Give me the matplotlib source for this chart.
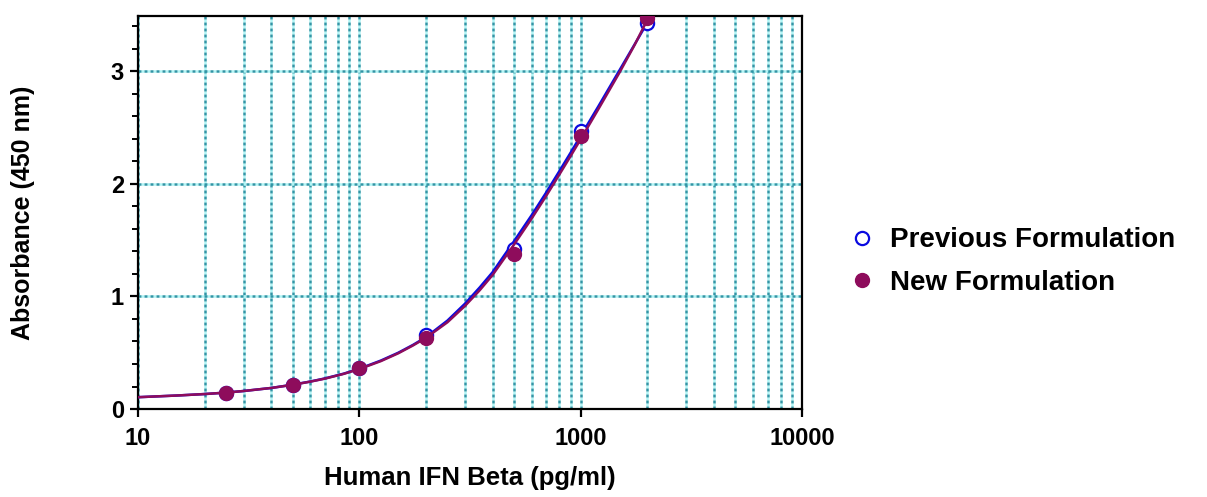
import matplotlib.pyplot as plt
import numpy as np

plt.rcParams['font.family'] = ['Liberation Sans', 'DejaVu Sans']
plt.rcParams['font.weight'] = 'bold'

# standards (pg/ml) and measured absorbance
conc = [25, 50, 100, 200, 500, 1000, 2000]
prev_od = [0.14, 0.215, 0.365, 0.66, 1.42, 2.47, 3.425]
new_od = [0.14, 0.215, 0.36, 0.63, 1.375, 2.42, 3.475]

# fitted curves
curve_x = [10, 15, 20, 25, 30, 40, 50, 60, 70, 85, 100, 125, 150, 175, 200, 250, 300, 350,
           400, 500, 600, 700, 800, 900, 1000, 1200, 1500, 1750, 2000]
curve_prev = [0.105, 0.12, 0.133, 0.146, 0.16, 0.187, 0.216, 0.244, 0.272, 0.314, 0.358, 0.43,
              0.5, 0.57, 0.638, 0.785, 0.935, 1.08, 1.215, 1.49, 1.72, 1.925, 2.11, 2.275,
              2.425, 2.685, 3.01, 3.235, 3.43]
curve_new = [0.105, 0.12, 0.133, 0.146, 0.16, 0.187, 0.215, 0.243, 0.27, 0.312, 0.355, 0.425,
             0.495, 0.565, 0.632, 0.77, 0.915, 1.055, 1.19, 1.46, 1.69, 1.895, 2.08, 2.245,
             2.395, 2.66, 2.99, 3.23, 3.455]

xticks = [10, 100, 1000, 10000]
xlabels = ['10', '100', '1000', '10000']
yticks = [0, 1, 2, 3]

blue = '#0a0ae0'
plum = '#8e0c5c'

fig = plt.figure(figsize=(12.07, 4.97), dpi=100)
ax = fig.add_axes([0.1143, 0.177, 0.5502, 0.791])

ax.plot(curve_x, curve_prev, color=blue, lw=1.8, zorder=3)
p1, = ax.plot(conc, prev_od, ls='none', marker='o', ms=9.5, mfc='white', mec=blue, mew=1.6,
              zorder=4, label='Previous Formulation')
ax.plot(curve_x, curve_new, color=plum, lw=1.8, zorder=5)
p2, = ax.plot(conc, new_od, ls='none', marker='o', ms=10, mfc=plum, mec=plum, mew=1,
              zorder=6, label='New Formulation')

ax.set_xscale('log')
ax.set_xlim(10, 10000)
ax.set_ylim(0, 3.49)
ax.set_xticks(xticks)
ax.set_xticklabels(xlabels)
ax.xaxis.set_minor_formatter(plt.NullFormatter())
ax.set_yticks(yticks)
ax.set_yticks(np.arange(0, 3.5, 0.2), minor=True)

# dotted teal grid with pale cyan gaps
ax.grid(True, which='both', axis='x', color='#3196a6', gapcolor='#aef5f5',
        ls=(0, (1.2, 1.2)), lw=1.8, zorder=1)
ax.grid(True, which='major', axis='y', color='#3196a6', gapcolor='#aef5f5',
        ls=(0, (1.2, 1.2)), lw=1.8, zorder=1)

for s in ax.spines.values():
    s.set_linewidth(1.6)
ax.tick_params(axis='both', which='major', length=6, width=1.6, labelsize=17)
ax.tick_params(axis='x', which='minor', length=0)
ax.tick_params(axis='y', which='minor', length=4, width=1.4)
ax.tick_params(axis='x', pad=7)
ax.tick_params(axis='y', pad=4)

ax.set_xlabel('Human IFN Beta (pg/ml)', fontsize=18.5, fontweight='bold')
ax.set_ylabel('Absorbance (450 nm)', fontsize=18, fontweight='bold')
ax.xaxis.set_label_coords(0.5, -0.145)
ax.yaxis.set_label_coords(-0.155, 0.5)

ax.legend(handles=[p1, p2], loc='center left', bbox_to_anchor=(1.057, 0.375),
          frameon=False, fontsize=20, handlelength=0.8, handletextpad=0.6,
          labelspacing=0.6, borderaxespad=0)

fig.savefig('out.png', dpi=100)
